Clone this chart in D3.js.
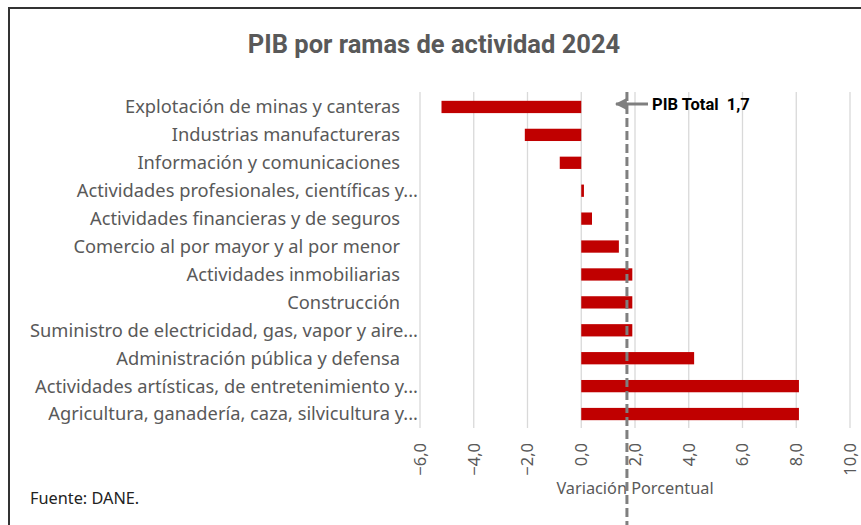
<!DOCTYPE html>
<html>
<head>
<meta charset="utf-8">
<script src="https://cdn.jsdelivr.net/npm/d3@7"></script>
<style>
  body { margin: 0; background: #fff; }
  svg { display: block; font-family: "Noto Sans", Roboto, sans-serif; }
</style>
</head>
<body>
<div id="chart-container"></div>
<script>
const categories = [
  "Explotación de minas y canteras",
  "Industrias manufactureras",
  "Información y comunicaciones",
  "Actividades profesionales, científicas y...",
  "Actividades financieras y de seguros",
  "Comercio al por mayor y al por menor",
  "Actividades inmobiliarias",
  "Construcción",
  "Suministro de electricidad, gas, vapor y aire...",
  "Administración pública y defensa",
  "Actividades artísticas, de entretenimiento y...",
  "Agricultura, ganadería, caza, silvicultura y..."
];
const values = [-5.2, -2.1, -0.8, 0.1, 0.4, 1.4, 1.9, 1.9, 1.9, 4.2, 8.1, 8.1];
const tickValues = [-6, -4, -2, 0, 2, 4, 6, 8, 10];
const pibTotal = 1.7;

const W = 861, H = 525;
const margin = { top: 93, left: 420, right: 11, bottom: 97 };

const svg = d3.select("#chart-container").append("svg")
  .attr("width", W).attr("height", H);

// outer frame (runs off the right and bottom)
svg.append("rect")
  .attr("x", 9).attr("y", 8).attr("width", W + 20).attr("height", H + 20)
  .attr("fill", "none").attr("stroke", "#333").attr("stroke-width", 2);

const x = d3.scaleLinear().domain([-6, 10]).range([margin.left, W - margin.right]);
const y = d3.scaleBand().domain(categories)
  .range([margin.top, H - margin.bottom]).paddingInner(0.56).paddingOuter(0.28);

const fmt = d => d3.format(".1f")(d).replace(".", ",");

// gridlines
svg.append("g").selectAll("line").data(tickValues).enter().append("line")
  .attr("x1", d => x(d)).attr("x2", d => x(d))
  .attr("y1", margin.top - 1).attr("y2", H - margin.bottom)
  .attr("stroke", "#d9d9d9").attr("stroke-width", 1.3);

// bars
svg.append("g").selectAll("rect").data(values).enter().append("rect")
  .attr("x", d => x(Math.min(0, d)))
  .attr("width", d => Math.abs(x(d) - x(0)))
  .attr("y", (d, i) => y(categories[i]))
  .attr("height", y.bandwidth())
  .attr("fill", "#c00000");

// category labels
const truncated = c => c.endsWith("...");
svg.append("g").selectAll("text").data(categories).enter().append("text")
  .attr("x", d => truncated(d) ? 418 : 400)
  .attr("y", d => y(d) + y.bandwidth() / 2)
  .attr("dy", "0.35em")
  .attr("text-anchor", "end")
  .attr("font-size", 18.3)
  .attr("fill", "#595959")
  .text(d => d);

// tick labels, rotated
svg.append("g").selectAll("text").data(tickValues).enter().append("text")
  .attr("transform", d => `translate(${x(d)},443) rotate(-90)`)
  .attr("dy", "0.35em")
  .attr("text-anchor", "end")
  .attr("font-size", 16.5)
  .attr("fill", "#595959")
  .text(fmt);

// axis title
svg.append("text")
  .attr("x", 635).attr("y", 494)
  .attr("text-anchor", "middle")
  .attr("font-size", 16.3)
  .attr("fill", "#595959")
  .text("Variación Porcentual");

// PIB total dashed line
svg.append("line")
  .attr("x1", x(pibTotal)).attr("x2", x(pibTotal))
  .attr("y1", 92).attr("y2", H)
  .attr("stroke", "#7f7f7f").attr("stroke-width", 3)
  .attr("stroke-dasharray", "9,4");

// annotation arrow
svg.append("defs").append("marker")
  .attr("id", "arrow").attr("viewBox", "0 0 10 10")
  .attr("refX", 9).attr("refY", 5)
  .attr("markerWidth", 4).attr("markerHeight", 4)
  .attr("orient", "auto")
  .append("path").attr("d", "M0,0 L10,5 L0,10 z").attr("fill", "#7f7f7f");

svg.append("line")
  .attr("x1", 648).attr("x2", 616)
  .attr("y1", 104).attr("y2", 104)
  .attr("stroke", "#7f7f7f").attr("stroke-width", 3)
  .attr("marker-end", "url(#arrow)");

svg.append("text")
  .attr("x", 652).attr("y", 109.5)
  .attr("font-family", "Roboto, sans-serif")
  .attr("font-size", 16.5).attr("font-weight", "bold")
  .attr("fill", "#000")
  .style("white-space", "pre")
  .text("PIB Total  " + fmt(pibTotal));

// title
svg.append("text")
  .attr("x", 434).attr("y", 53)
  .attr("text-anchor", "middle")
  .attr("font-family", "Roboto, sans-serif")
  .attr("font-size", 25.5).attr("font-weight", "bold")
  .attr("fill", "#595959")
  .text("PIB por ramas de actividad 2024");

// source
svg.append("text")
  .attr("x", 30).attr("y", 504)
  .attr("font-size", 16.3)
  .attr("fill", "#222")
  .text("Fuente: DANE.");
</script>
</body>
</html>
